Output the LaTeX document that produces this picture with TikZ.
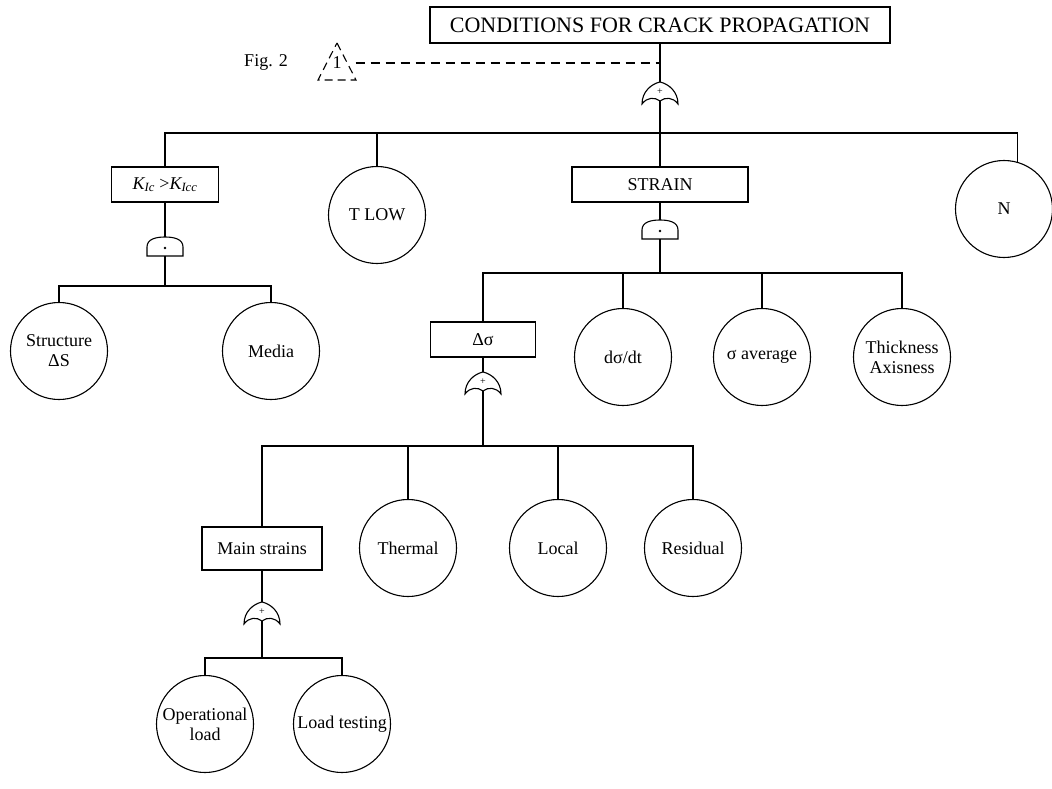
\documentclass[tikz,border=0pt]{standalone}
\usepackage{fontspec}
\setmainfont{Liberation Serif}
\begin{document}
\begin{tikzpicture}
[x=1pt,y=-1pt,line width=1.1pt,
  eventbox/.style={shape=rectangle,draw,inner sep=0pt,minimum height=35pt,font=\fontsize{18}{20}\selectfont},%
  basiccirc/.style={shape=circle,draw,inner sep=0pt,minimum size=97pt,align=center,font=\fontsize{18}{20}\selectfont},%
  labeltext/.style={inner sep=0pt,font=\fontsize{18}{20}\selectfont},%
  transfer/.style={dashed,dash pattern=on 9pt off 6pt},%
  orgate/.pic={
    \draw (-18,22) .. controls (-18,10) and (-9,2) .. (0,0)
      .. controls (9,2) and (18,10) .. (18,22)
      .. controls (13,15) and (5,15) .. (0,19)
      .. controls (-5,15) and (-13,15) .. (-18,22) -- cycle;
    \node[inner sep=0pt,font=\fontsize{10}{10}\selectfont] at (0,10) {+};
    \coordinate (-in) at (0,0);
    \coordinate (-out) at (0,19);
  },
  andgate/.pic={
    \draw (-18,19) -- (-18,10) .. controls (-18,2) and (-9,0) .. (0,0)
      .. controls (9,0) and (18,2) .. (18,10) -- (18,19) -- cycle;
    \fill (0,11) circle (1.3pt);
    \coordinate (-in) at (0,0);
    \coordinate (-out) at (0,19);
  }]
\useasboundingbox (0,0) rectangle (1052,789);
% top event and transfer
\node (top) at (660,25) [eventbox,minimum width=460pt,minimum height=36pt,font=\fontsize{22}{24}\selectfont] {CONDITIONS FOR CRACK PROPAGATION};
\node (fig) at (266,62) [labeltext] {Fig. 2};
\node (tri) at (337,63) [labeltext,minimum width=36pt] {1};
\draw[transfer,dash pattern=on 8pt off 5pt] (337,43) -- (356,80) -- (318,80) -- cycle;
\pic (gtop) at (660,82) {orgate};
\coordinate (bar1) at (660,133);
% first level
\node (kic) at (165,184.5) [eventbox,minimum width=107pt] {{\itshape K\textsubscript{Ic}} >{\itshape K\textsubscript{Icc}}};
\node (tlow) at (377,215) [basiccirc] {T LOW};
\node (strain) at (660,184.5) [eventbox,minimum width=176pt] {STRAIN};
\node (n) at (1004,209) [basiccirc] {N};
% K branch
\pic (gk) at (165,237) {andgate};
\coordinate (bar2) at (165,286);
\node (struct) at (59,351) [basiccirc] {Structure\\ΔS};
\node (media) at (271,351) [basiccirc] {Media};
% strain branch
\pic (gs) at (660,220) {andgate};
\coordinate (bar3) at (660,273);
\node (dsig) at (483,339.5) [eventbox,minimum width=105pt] {Δσ};
\node (rate) at (623,357) [basiccirc] {dσ/dt};
\node (savg) at (762,357) [basiccirc] {σ average};
\node (thick) at (902,357) [basiccirc] {Thickness\\Axisness};
% stress branch
\pic (gd) at (483,372) {orgate};
\coordinate (bar4) at (483,446);
\node (mains) at (262,548.5) [eventbox,minimum width=120pt,minimum height=43pt] {Main strains};
\node (therm) at (408,548) [basiccirc] {Thermal};
\node (local) at (558,548) [basiccirc] {Local};
\node (resid) at (693,548) [basiccirc] {Residual};
% main strains branch
\pic (gm) at (262,602) {orgate};
\coordinate (bar5) at (262,658);
\node (opload) at (205,724) [basiccirc] {Operational\\load};
\node (ltest) at (342,724) [basiccirc] {Load testing};
% edges
\draw[transfer] (tri.east) -- (tri.east -| top.south);
\draw (top.south) -- (gtop-in);
\draw (gtop-out) -- (bar1);
\draw (kic.north) |- (bar1) -| (n.74);
\draw (tlow.north) -- (tlow.north |- bar1);
\draw (strain.north) -- (bar1);
\draw (kic.south) -- (gk-in);
\draw (gk-out) -- (bar2);
\draw (struct.north) |- (bar2) -| (media.north);
\draw (strain.south) -- (gs-in);
\draw (gs-out) -- (bar3);
\draw (dsig.north) |- (bar3) -| (thick.north);
\draw (rate.north) -- (rate.north |- bar3);
\draw (savg.north) -- (savg.north |- bar3);
\draw (dsig.south) -- (gd-in);
\draw (gd-out) -- (bar4);
\draw (mains.north) |- (bar4) -| (resid.north);
\draw (therm.north) -- (therm.north |- bar4);
\draw (local.north) -- (local.north |- bar4);
\draw (mains.south) -- (gm-in);
\draw (gm-out) -- (bar5);
\draw (opload.north) |- (bar5) -| (ltest.north);
\end{tikzpicture}
\end{document}
